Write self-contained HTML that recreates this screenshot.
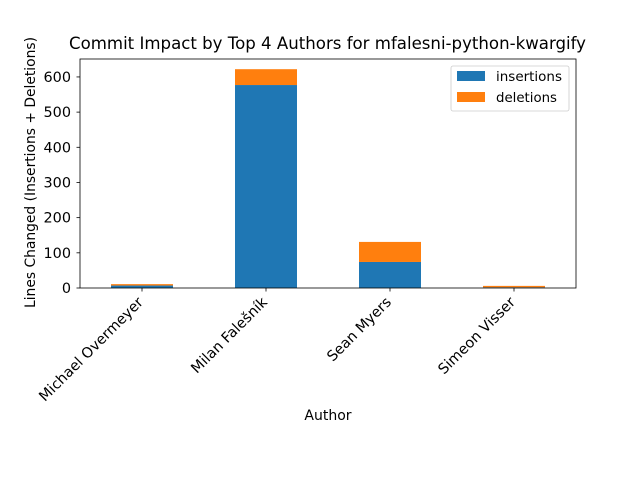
<!DOCTYPE html>
<html><head><meta charset="utf-8"><style>body{margin:0;background:#fff}svg{font-family:"DejaVu Sans","Liberation Sans",sans-serif}</style></head>
<body>
<svg id="c" width="640" height="480"></svg>
<script>
const authors=["Michael Overmeyer","Milan Falešník","Sean Myers","Simeon Visser"];
const insertions=[7,577,74,2];
const deletions=[4,45,57,4];
const yTicks=[0,100,200,300,400,500,600];
const NS="http://www.w3.org/2000/svg";
const svg=document.getElementById("c");
const L=80,R=576,T=59,B=288,yMax=651;
const y=v=>B-(v/yMax)*(B-T);
const band=(R-L)/authors.length;
const xc=i=>L+band*(i+0.5);
function mk(t,a,txt){const e=document.createElementNS(NS,t);for(const k in a)e.setAttribute(k,a[k]);if(txt!==undefined)e.textContent=txt;svg.appendChild(e);return e;}
authors.forEach((a,i)=>{
  const w=band*0.5;
  const b1=mk("rect",{x:xc(i)-w/2,y:y(insertions[i]),width:w,height:B-y(insertions[i]),fill:"#1f77b4"});
  
  
  const tot=insertions[i]+deletions[i];
  const b2=mk("rect",{x:xc(i)-w/2,y:y(tot),width:w,height:y(insertions[i])-y(tot),fill:"#ff7f0e"});
  
  
  mk("line",{x1:xc(i),x2:xc(i),y1:B,y2:B+3.5,stroke:"#000","stroke-width":0.8});
  const tx=xc(i)+2,ty=B+15;
  const t=mk("text",{x:tx,y:ty,"font-size":14.4,"text-anchor":"end",transform:`rotate(-45 ${tx} ${ty})`},a);
  
  
});
yTicks.forEach(v=>{
  mk("line",{x1:L-3.5,x2:L,y1:y(v),y2:y(v),stroke:"#000","stroke-width":0.8});
  const t=mk("text",{x:L-9,y:y(v)+5,"font-size":14.4,"text-anchor":"end"},v);
  
  
});
mk("rect",{x:L,y:T,width:R-L,height:B-T,fill:"none",stroke:"#000","stroke-width":0.8});
</script>
<svg width="640" height="480" style="position:absolute;left:0;top:0">
<text x="69" y="49" font-size="16.5" textLength="517" lengthAdjust="spacingAndGlyphs" font-family="DejaVu Sans, sans-serif">Commit Impact by Top 4 Authors for mfalesni-python-kwargify</text>
<text x="328" y="420" font-size="14" text-anchor="middle" font-family="DejaVu Sans, sans-serif">Author</text>
<text x="35" y="308" font-size="14.4" textLength="271" lengthAdjust="spacingAndGlyphs" transform="rotate(-90 35 308)" font-family="DejaVu Sans, sans-serif">Lines Changed (Insertions + Deletions)</text>
<g>
<rect x="451" y="66" width="118" height="45" rx="2" fill="#fff" stroke="#ccc" stroke-width="0.8"/>
<rect x="457" y="71" width="28" height="10" fill="#1f77b4"/>
<text x="496" y="81" font-size="13.5" textLength="66" lengthAdjust="spacingAndGlyphs" font-family="DejaVu Sans, sans-serif">insertions</text>
<rect x="457" y="92" width="28" height="10" fill="#ff7f0e"/>
<text x="496" y="102" font-size="13.5" textLength="61" lengthAdjust="spacingAndGlyphs" font-family="DejaVu Sans, sans-serif">deletions</text>
</g>
</svg>
</body></html>
